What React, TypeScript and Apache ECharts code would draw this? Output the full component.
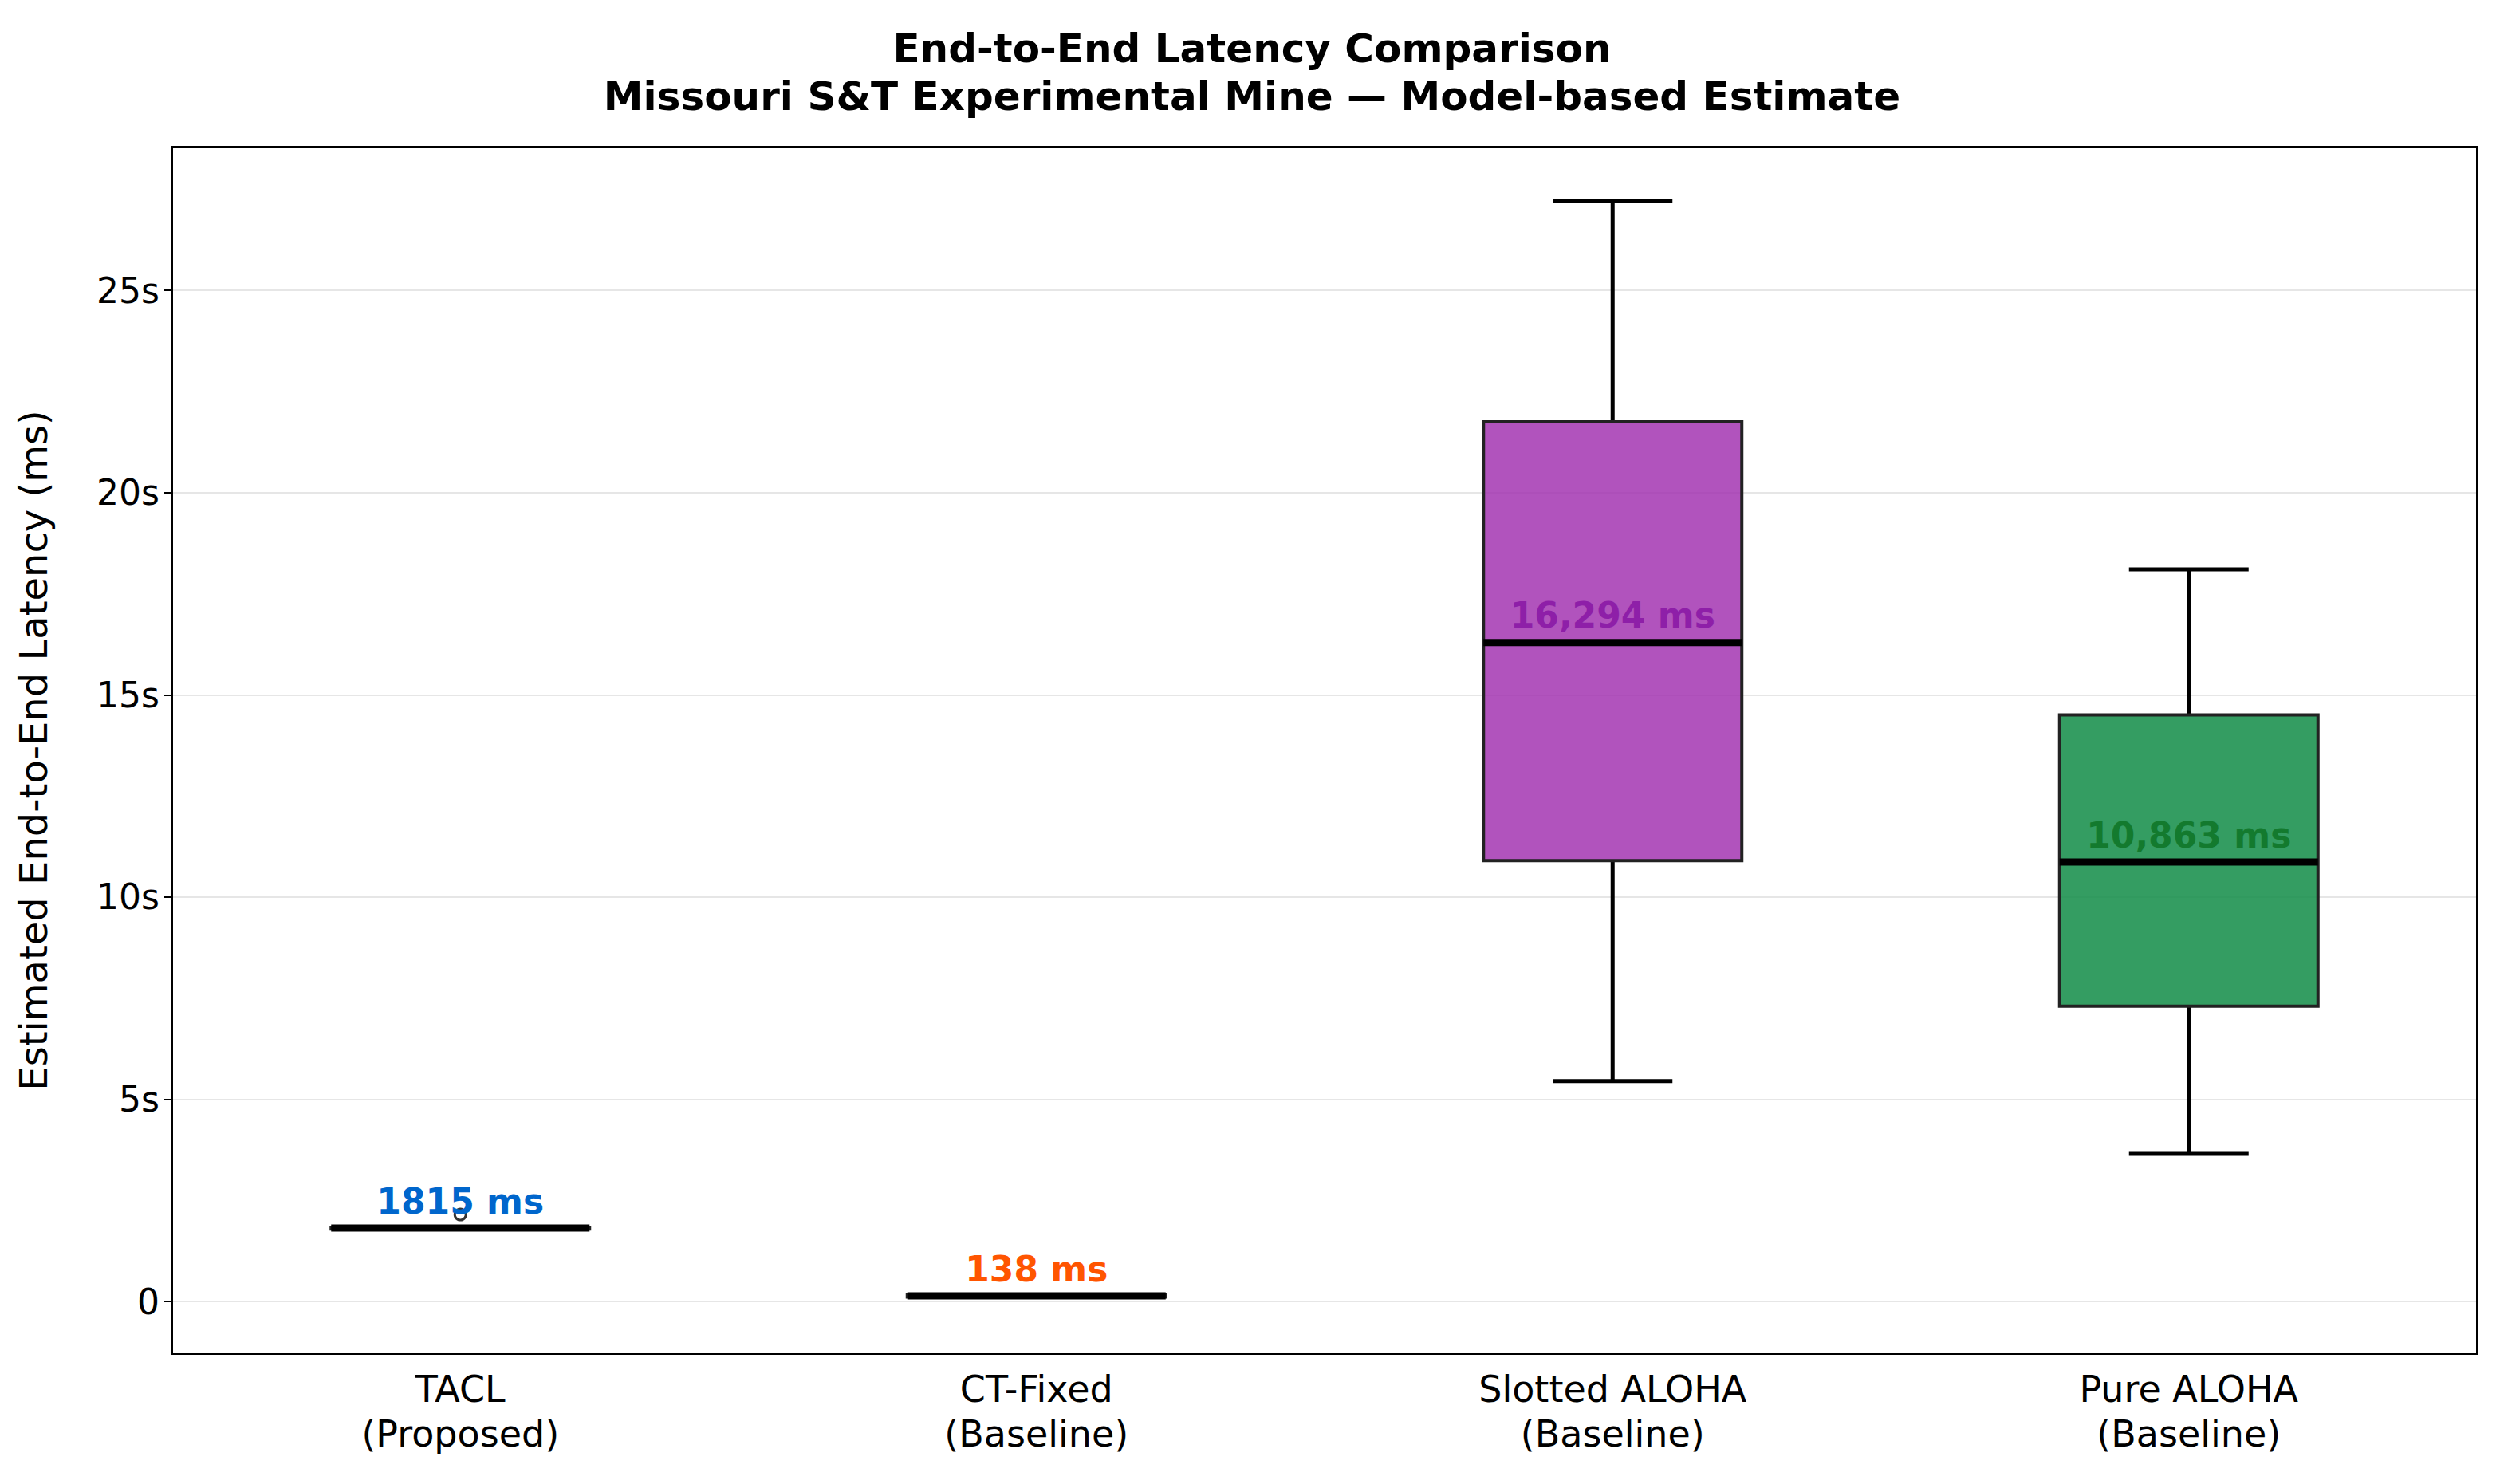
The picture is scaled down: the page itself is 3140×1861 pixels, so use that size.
import React, { useEffect, useRef } from 'react';
import * as echarts from 'echarts';

// categories and box statistics (ms)
const categories = ['TACL\n(Proposed)', 'CT-Fixed\n(Baseline)', 'Slotted ALOHA\n(Baseline)', 'Pure ALOHA\n(Baseline)'];
const whiskerLow = [1790, 110, 5450, 3650];
const q1 = [1790, 110, 10900, 7300];
const median = [1815, 138, 16294, 10863];
const q3 = [1830, 170, 21750, 14500];
const whiskerHigh = [1830, 170, 27200, 18100];
const fliers: [number, number][] = [[0, 2150]];
const fills = ['#3b7fd0', '#ff7f2a', 'rgba(160,45,175,0.82)', 'rgba(17,140,70,0.85)'];
const labelColors = ['#0066cc', '#ff5500', '#8e1fa8', '#137a2e'];
const yTicks = [0, 5000, 10000, 15000, 20000, 25000];

const FONT = 'DejaVu Sans';

const App: React.FC = () => {
  const ref = useRef<HTMLDivElement>(null);

  useEffect(() => {
    document.body.style.margin = '0';
    if (!ref.current) return;
    const chart = echarts.init(ref.current, null, { renderer: 'svg' });
    const data = categories.map((_, i) => [i, whiskerLow[i], q1[i], median[i], q3[i], whiskerHigh[i]]);

    chart.setOption({
      animation: false,
      title: {
        text: 'End-to-End Latency Comparison\nMissouri S&T Experimental Mine — Model-based Estimate',
        left: 'center',
        top: 26,
        textStyle: { fontFamily: FONT, fontSize: 50, fontWeight: 'bold', color: '#000', lineHeight: 60, align: 'center' },
      },
      grid: { left: 216, right: 34, top: 184, bottom: 163, show: true, borderColor: '#000', borderWidth: 2, z: 10 },
      xAxis: {
        type: 'category',
        data: categories,
        axisLine: { show: false },
        axisTick: { length: 10, lineStyle: { color: '#000', width: 2 }, alignWithLabel: true },
        axisLabel: { fontFamily: FONT, fontSize: 46, color: '#000', lineHeight: 56, margin: 16 },
      },
      yAxis: {
        type: 'value',
        min: -1300,
        max: 28550,
        name: 'Estimated End-to-End Latency (ms)',
        nameLocation: 'middle',
        nameGap: 150,
        nameTextStyle: { fontFamily: FONT, fontSize: 48, color: '#000' },
        axisLine: { show: false },
        axisTick: { show: true, length: 10, lineStyle: { color: '#000', width: 2 }, customValues: yTicks },
        splitLine: { show: false },
        axisLabel: {
          fontFamily: FONT, fontSize: 44, color: '#000', margin: 16,
          customValues: yTicks,
          formatter: (v: number) => (v === 0 ? '0' : `${v / 1000}s`),
        },
      },
      series: [
        {
          type: 'custom',
          data,
          renderItem: (params: any, api: any) => {
            const i = api.value(0);
            const c = api.coord([i, api.value(3)]);
            const x = c[0];
            const yl = api.coord([i, api.value(1)])[1];
            const y1 = api.coord([i, api.value(2)])[1];
            const ym = c[1];
            const y3 = api.coord([i, api.value(4)])[1];
            const yh = api.coord([i, api.value(5)])[1];
            const bw = 324;
            const cw = 150;
            const black = { stroke: '#000', lineWidth: 5 };
            return {
              type: 'group',
              children: [
                { type: 'line', shape: { x1: x, y1: yl, x2: x, y2: y1 }, style: black },
                { type: 'line', shape: { x1: x, y1: y3, x2: x, y2: yh }, style: black },
                { type: 'line', shape: { x1: x - cw / 2, y1: yl, x2: x + cw / 2, y2: yl }, style: black },
                { type: 'line', shape: { x1: x - cw / 2, y1: yh, x2: x + cw / 2, y2: yh }, style: black },
                { type: 'rect', shape: { x: x - bw / 2, y: y3, width: bw, height: Math.max(y1 - y3, 1) }, style: { fill: fills[i], stroke: '#222', lineWidth: 4 } },
                { type: 'line', shape: { x1: x - bw / 2, y1: ym, x2: x + bw / 2, y2: ym }, style: { stroke: '#000', lineWidth: 9 } },
                {
                  type: 'text', x: x, y: ym - 12,
                  style: {
                    text: `${median[i].toLocaleString('en-US', { useGrouping: i >= 2 })} ms`,
                    fill: labelColors[i], fontFamily: FONT, fontWeight: 'bold', fontSize: 44,
                    align: 'center', verticalAlign: 'bottom',
                  },
                },
              ],
            };
          },
          z: 3,
        },
        {
          type: 'scatter',
          data: fliers,
          symbol: 'circle',
          symbolSize: 14,
          itemStyle: { color: 'transparent', borderColor: '#000', borderWidth: 3 },
          z: 2,
          markLine: {
            silent: true,
            symbol: 'none',
            label: { show: false },
            lineStyle: { color: '#e6e6e6', width: 2, type: 'solid' },
            data: yTicks.map((v) => ({ yAxis: v })),
            z: 0,
          },
        },
      ],
    });
    return () => chart.dispose();
  }, []);

  return <div ref={ref} style={{ width: 3140, height: 1861 }} />;
};

export default App;
